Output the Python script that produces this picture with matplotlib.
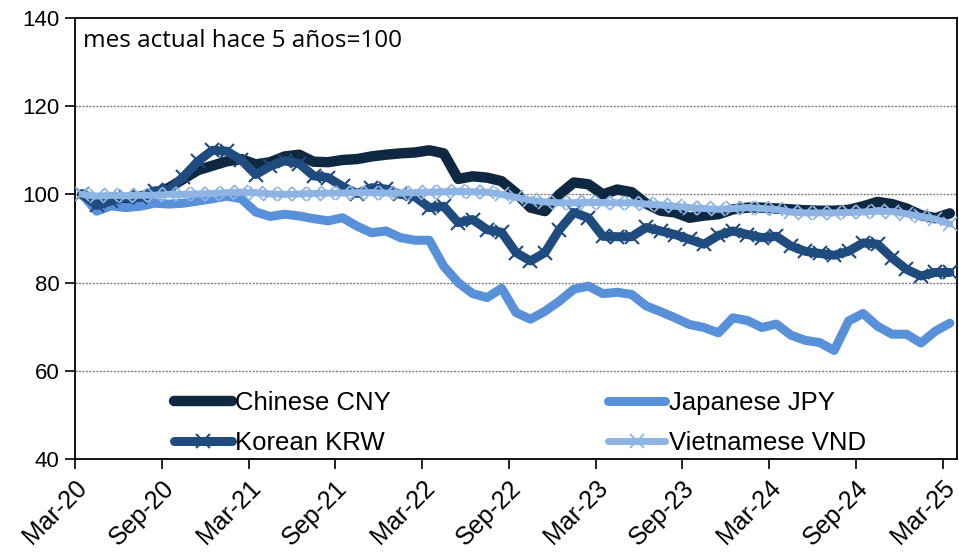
import numpy as np
import matplotlib
matplotlib.use("Agg")
import matplotlib.pyplot as plt

plt.rcParams['font.family'] = ['Liberation Sans', 'DejaVu Sans']

# monthly index, Mar-20 .. Mar-25 (mes actual hace 5 anos = 100)
tick_labels = ["Mar-20", "Sep-20", "Mar-21", "Sep-21", "Mar-22", "Sep-22",
               "Mar-23", "Sep-23", "Mar-24", "Sep-24", "Mar-25"]

cny = [100, 98.5, 98.0, 98.5, 99.5, 100.3, 101.5, 103.5, 105.5, 106.5,
       107.5, 108.0, 106.8, 107.3, 108.6, 109.0, 107.4, 107.3, 107.8, 108.0,
       108.6, 109.0, 109.3, 109.5, 110.0, 109.3, 103.5, 104.1, 103.8, 103.0,
       100.3, 97.0, 96.2, 100.0, 102.7, 102.3, 100.0, 101.1, 100.5, 97.9,
       96.3, 95.9, 94.7, 95.2, 95.5, 96.6, 97.0, 97.0, 96.8, 96.6,
       96.4, 96.3, 96.3, 96.5, 97.3, 98.3, 97.8, 96.8, 95.3, 94.6,
       95.7]

jpy = [100, 96.2, 97.4, 97.0, 97.3, 98.0, 97.8, 98.0, 98.5, 99.0,
       99.6, 99.0, 96.0, 95.0, 95.5, 95.1, 94.5, 94.0, 94.7, 92.8,
       91.3, 91.7, 90.2, 89.6, 89.6, 83.7, 80.0, 77.5, 76.6, 78.7,
       73.2, 71.7, 73.5, 75.8, 78.5, 79.2, 77.5, 77.8, 77.3, 74.7,
       73.4, 72.0, 70.5, 69.8, 68.6, 72.0, 71.4, 69.8, 70.6, 68.1,
       66.9, 66.4, 64.6, 71.3, 73.0, 70.1, 68.3, 68.3, 66.3, 69.0,
       70.8]

krw = [100, 97.5, 98.5, 99.3, 99.3, 100.8, 101.0, 104.0, 107.5, 110.0,
       109.8, 107.8, 104.5, 106.4, 107.6, 107.0, 104.2, 103.8, 101.8, 100.2,
       101.5, 101.2, 100.0, 99.5, 97.0, 97.3, 93.6, 94.3, 92.0, 91.4,
       86.8, 84.9, 86.8, 92.0, 95.9, 94.7, 90.5, 90.4, 90.4, 92.5,
       91.7, 90.9, 89.8, 88.7, 90.7, 91.7, 90.9, 90.2, 90.5, 88.3,
       87.1, 86.6, 86.2, 87.1, 89.0, 88.7, 85.6, 83.0, 81.5, 82.3,
       82.3]

vnd = [100, 99.6, 99.8, 99.7, 99.8, 99.8, 100.0, 100.0, 100.1, 100.2,
       100.4, 100.5, 100.4, 100.1, 100.0, 100.1, 100.2, 100.3, 100.3, 100.4,
       100.4, 100.3, 100.3, 100.4, 100.5, 100.6, 100.7, 100.6, 100.5, 100.0,
       99.3, 98.7, 98.3, 98.1, 98.1, 98.2, 98.1, 98.1, 98.1, 97.8,
       97.6, 97.3, 97.0, 96.8, 96.6, 96.8, 97.0, 96.8, 96.6, 96.0,
       95.8, 95.8, 95.8, 95.9, 96.0, 96.2, 96.1, 95.6, 95.0, 94.4,
       93.3]

# points sit in the middle of each month slot (category axis "between tick marks")
x = np.arange(len(cny)) + 0.5

fig = plt.figure(figsize=(9.59, 5.55), dpi=100)
ax = fig.add_axes((0.0782, 0.173, 0.9198, 0.7946))

for v in [60, 80, 100, 120]:
    ax.axhline(v, color='#7f7f7f', lw=1.0, ls=(0, (1.5, 1.0)), zorder=0)

l_cny, = ax.plot(x, cny, color='#0e2841', lw=7.5, solid_capstyle='round',
                 solid_joinstyle='round', label='Chinese CNY', zorder=3)
l_jpy, = ax.plot(x, jpy, color='#5891d9', lw=6.5, solid_capstyle='round',
                 solid_joinstyle='round', label='Japanese JPY', zorder=3)
l_krw, = ax.plot(x, krw, color='#1f4b7e', lw=6.5, marker='x', ms=10, mew=1.5,
                 solid_capstyle='round', solid_joinstyle='round',
                 label='Korean KRW', zorder=4)
l_vnd, = ax.plot(x, vnd, color='#8eb4e3', lw=5.0, marker='x', ms=10, mew=1.3,
                 solid_capstyle='round', solid_joinstyle='round',
                 label='Vietnamese VND', zorder=5)

ax.set_xlim(0, 61)
ax.set_ylim(40, 140)
ax.set_yticks(np.arange(40, 141, 20))
ax.set_xticks(np.arange(0, 61, 6))
ax.set_xticklabels(tick_labels, rotation=45, ha='right', rotation_mode='anchor')
ax.tick_params(axis='both', direction='out', length=7, width=1.2)
ax.tick_params(axis='y', labelsize=16, pad=4)
ax.tick_params(axis='x', labelsize=18, pad=5)
for s in ax.spines.values():
    s.set_linewidth(1.3)
    s.set_color('black')

ax.text(0.009, 0.975, "mes actual hace 5 años=100", transform=ax.transAxes,
        fontsize=17.5, va='top', ha='left', family=['Open Sans', 'DejaVu Sans'])

ax.legend([l_cny, l_krw, l_jpy, l_vnd],
          ['Chinese CNY', 'Korean KRW', 'Japanese JPY', 'Vietnamese VND'],
          ncol=2, loc='lower left', bbox_to_anchor=(0.0975, -0.021),
          frameon=False, borderpad=0.0, handlelength=2.25, handletextpad=0.12,
          columnspacing=8.45, labelspacing=0.64, fontsize=18.5)

plt.savefig("out.png", dpi=100)
